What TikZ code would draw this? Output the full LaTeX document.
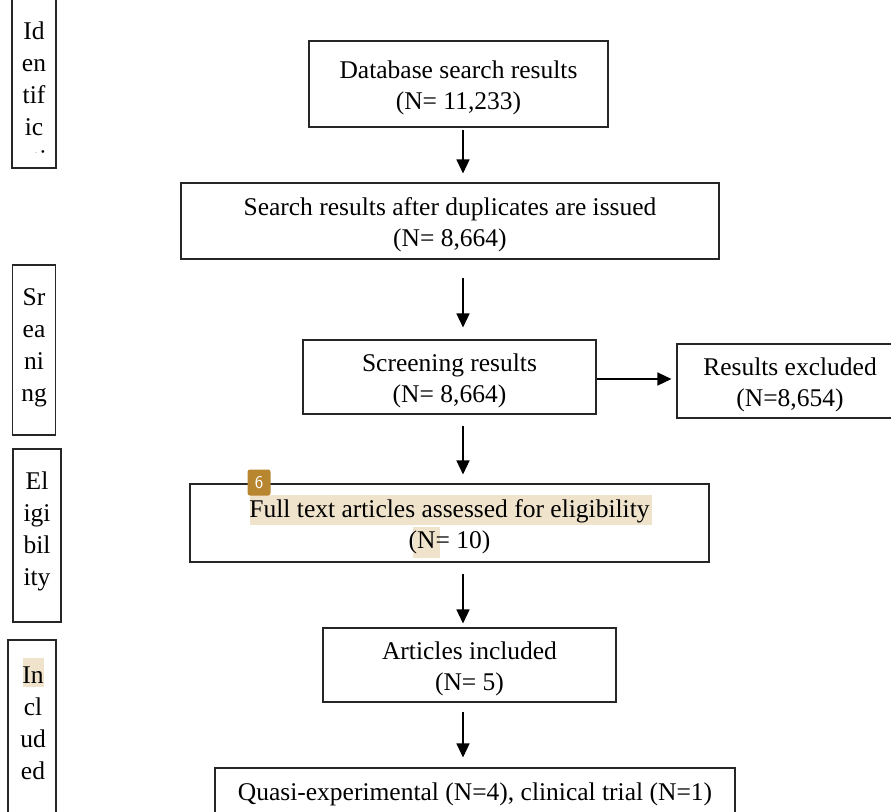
\documentclass[tikz,border=0pt]{standalone}
\usepackage{fontspec}
\setmainfont{Liberation Serif}
\usetikzlibrary{arrows.meta}
\definecolor{hl}{HTML}{EFE3CC}
\definecolor{badge}{HTML}{B8862E}
\newcommand{\tg}{\rule{0pt}{25pt}}
\tikzset{
  box/.style={draw=black!85, line width=1.1pt, align=center, inner sep=0pt, font=\fontsize{25.5}{31}\selectfont},
  side/.style={draw=black!85, line width=1.1pt, inner sep=0pt},
  sidetxt/.style={align=center, inner sep=0pt, font=\fontsize{25.5}{32}\selectfont},
  arr/.style={line width=1.4pt, -{Triangle[length=14pt,width=13pt]}},
}
\begin{document}
\begin{tikzpicture}[x=1pt,y=-1pt]
\useasboundingbox (0,0) rectangle (891,811);
\clip (0,0) rectangle (891,811);
% highlights
\fill[hl] (250,495) rectangle (652,525);
\fill[hl] (413,527) rectangle (440,558);
\fill[hl] (23,658) rectangle (44,687);
% side boxes
\node[side, minimum width=44pt, minimum height=178pt] (idbox) at (34,79) {};
\begin{scope}
\clip (0,0) rectangle (80,152);
\node[sidetxt] (idtxt) at (34,94.5) {Id\\en\\tif\\ic\\ati};
\end{scope}
\node[side, minimum width=43pt, minimum height=170pt] (srbox) at (34,350) {};
\node[sidetxt] (srtxt) at (34,348) {Sr\\ea\\ni\\ng};
\node[side, minimum width=48pt, minimum height=173pt] (elbox) at (37,535.5) {};
\node[sidetxt] (eltxt) at (37,531.5) {El\\igi\\bil\\ity};
\node[side, minimum width=48pt, minimum height=180pt] (inbox) at (32,730) {};
\node[sidetxt] (intxt) at (33,723) {In\\cl\\ud\\ed};
% main boxes
\node[box, minimum width=299pt, minimum height=86pt] (db) at (458.5,84) {\tg Database search results\\(N= 11,233)};
\node[box, minimum width=538pt, minimum height=76pt] (srch) at (450,221) {\tg Search results after duplicates are issued\\(N= 8,664)};
\node[box, minimum width=293pt, minimum height=74pt] (scr) at (449.5,377) {\tg Screening results\\(N= 8,664)};
\node[box, minimum width=226pt, minimum height=74pt] (exc) at (790,381) {\tg Results excluded\\(N=8,654)};
\node[box, minimum width=519pt, minimum height=78pt] (full) at (449.5,523) {\tg Full text articles assessed for eligibility\\(N= 10)};
\node[box, minimum width=293pt, minimum height=74pt] (inc) at (469.5,665) {\tg Articles included\\(N= 5)};
\node[box, minimum width=520pt, minimum height=52pt] (quasi) at (475,794) {Quasi-experimental (N=4), clinical trial (N=1)};
% badge
\node[fill=badge, rounded corners=2.5pt, minimum width=23pt, minimum height=26pt, inner sep=0pt, text=white, font=\fontsize{18}{18}\sffamily] (badge6) at (259,482.5) {6};
% arrows
\coordinate (ax) at (463,0);
\draw[arr] ([yshift=-2pt]db.south -| ax) -- ([yshift=9pt]srch.north -| ax);
\draw[arr] ([yshift=-18pt]srch.south -| ax) -- ([yshift=12pt]scr.north -| ax);
\draw[arr] ([yshift=-11pt]scr.south -| ax) -- ([yshift=9pt]full.north -| ax);
\draw[arr] ([yshift=-11pt]full.south -| ax) -- ([yshift=4pt]inc.north -| ax);
\draw[arr] ([yshift=-9pt]inc.south -| ax) -- ([yshift=10pt]quasi.north -| ax);
\draw[arr] (scr.east |- 0,379) -- ([xshift=-5pt]exc.west |- 0,379);
\end{tikzpicture}
\end{document}
